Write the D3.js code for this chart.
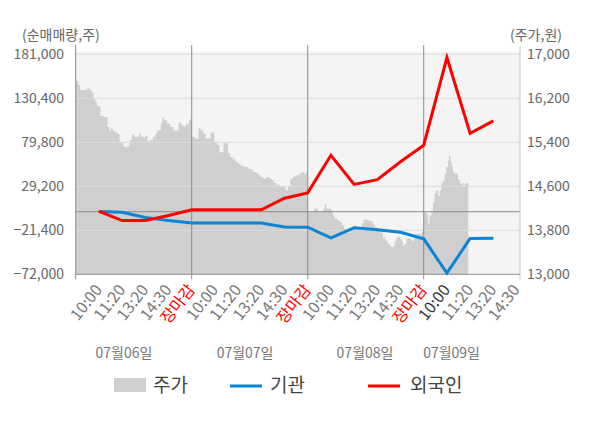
<!DOCTYPE html>
<html>
<head>
<meta charset="utf-8">
<script src="https://cdn.jsdelivr.net/npm/d3@7"></script>
<style>
    body { margin: 0; background: #fff; }
    svg { display: block; font-family: "Noto Sans CJK KR", "Noto Sans", sans-serif; }
</style>
</head>
<body>
<svg id="chart" width="600" height="428"></svg>
<script>
// x axis: one slot per label, day boundaries every 5 slots
const slotLabels = [
    '10:00', '11:20', '13:20', '14:30', '장마감',
    '10:00', '11:20', '13:20', '14:30', '장마감',
    '10:00', '11:20', '13:20', '14:30', '장마감',
    '10:00', '11:20', '13:20', '14:30'
];
const dayLabels = ['07월06일', '07월07일', '07월08일', '07월09일'];

// cumulative net buying (shares), one value per slot 1..18
const foreignNet = [500, -10200, -10200, -4400, 2200, 2200, 2200, 2200, 15500, 21600,
    64900, 31400, 36800, 57400, 76400, 177300, 90000, 104500];
const instNet = [300, -600, -6700, -10200, -12900, -12900, -12900, -12900, -17500, -17900,
    -30200, -18600, -20900, -23700, -31300, -70600, -30700, -30500];

const leftTicks = [-72000, -21400, 29200, 79800, 130400, 181000];
const rightTicks = [13000, 13800, 14600, 15400, 16200, 17000];

// stock price: [slot position, price]
const priceSeries = [
    [0.00, 16520], [0.05, 16520], [0.12, 16440], [0.19, 16350], [0.34, 16350], [0.48, 16380],
    [0.55, 16380], [0.62, 16340], [0.70, 16300], [0.77, 16200], [0.84, 16140], [0.91, 16060],
    [0.98, 16050], [1.06, 15880], [1.20, 15860], [1.31, 15860], [1.37, 15680], [1.46, 15600],
    [1.52, 15650], [1.60, 15600], [1.70, 15580], [1.80, 15550], [1.89, 15410], [1.99, 15390],
    [2.06, 15320], [2.18, 15300], [2.23, 15330], [2.32, 15440], [2.42, 15540], [2.52, 15500],
    [2.64, 15500], [2.74, 15560], [2.82, 15500], [2.92, 15470], [2.99, 15520], [3.09, 15420],
    [3.21, 15440], [3.33, 15500], [3.44, 15560], [3.52, 15620], [3.61, 15620], [3.67, 15740],
    [3.73, 15850], [3.81, 15800], [3.93, 15740], [4.07, 15680], [4.21, 15620], [4.33, 15620],
    [4.43, 15750], [4.55, 15710], [4.64, 15690], [4.76, 15730], [4.88, 15800], [4.93, 15820],
    [5.00, 15500], [5.13, 15470], [5.20, 15470], [5.29, 15650], [5.38, 15620], [5.49, 15560],
    [5.60, 15470], [5.70, 15470], [5.81, 15570], [5.89, 15590], [5.98, 15410], [6.09, 15350],
    [6.20, 15220], [6.30, 15220], [6.37, 15390], [6.46, 15380], [6.56, 15200], [6.66, 15130],
    [6.78, 15090], [6.89, 15040], [6.99, 15010], [7.11, 14980], [7.24, 14950], [7.32, 14950],
    [7.43, 14920], [7.53, 14900], [7.65, 14860], [7.76, 14840], [7.86, 14800], [7.96, 14770],
    [8.08, 14740], [8.22, 14770], [8.34, 14740], [8.44, 14710], [8.54, 14660], [8.65, 14630],
    [8.79, 14590], [8.94, 14590], [9.05, 14530], [9.15, 14600], [9.25, 14740], [9.37, 14780],
    [9.51, 14800], [9.63, 14830], [9.73, 14860], [9.83, 14830], [9.92, 14860], [9.98, 14830],
    [10.00, 14130], [10.16, 14150], [10.28, 14190], [10.38, 14190], [10.45, 14130], [10.56, 14150],
    [10.66, 14190], [10.73, 14270], [10.81, 14190], [10.91, 14190], [11.02, 14160], [11.09, 14070],
    [11.16, 14010], [11.28, 13980], [11.38, 13950], [11.48, 13890], [11.57, 13830], [11.67, 13760],
    [11.77, 13760], [11.88, 13850], [12.00, 13890], [12.10, 13830], [12.20, 13850], [12.32, 13930],
    [12.40, 13990], [12.50, 13990], [12.60, 13980], [12.71, 13960], [12.82, 13900], [12.91, 13850],
    [13.03, 13810], [13.14, 13760], [13.24, 13670], [13.34, 13610], [13.44, 13560], [13.53, 13520],
    [13.61, 13490], [13.69, 13520], [13.75, 13610], [13.83, 13670], [13.90, 13690], [13.97, 13640],
    [14.04, 13610], [14.11, 13520], [14.18, 13550], [14.26, 13640], [14.33, 13660], [14.40, 13640],
    [14.50, 13610], [14.59, 13730], [14.69, 13730], [14.76, 13750], [14.83, 13730], [14.90, 13760],
    [14.97, 13810],
    [15.00, 14130], [15.11, 14100], [15.19, 13930], [15.25, 14070], [15.33, 14130], [15.40, 14310],
    [15.47, 14470], [15.54, 14530], [15.62, 14430], [15.69, 14530], [15.76, 14660], [15.83, 14700],
    [15.90, 14830], [15.97, 14950], [16.05, 15070], [16.09, 15150], [16.15, 15040], [16.20, 14960],
    [16.26, 14860], [16.33, 14830], [16.41, 14830], [16.48, 14720], [16.56, 14640], [16.63, 14660],
    [16.70, 14620], [16.78, 14650], [16.85, 14660], [16.92, 14660]
];

const svg = d3.select('#chart');

const plotLeft = 75.7, plotRight = 520, plotTop = 54.3, plotBottom = 274.3;

const x = d3.scaleLinear().domain([0, 19.15]).range([plotLeft, plotRight]);
const yLeft = d3.scaleLinear().domain([-72000, 181000]).range([plotBottom, plotTop]);
const yRight = d3.scaleLinear().domain([13000, 17000]).range([plotBottom, plotTop]);
const fmt = d3.format(',');

// plot background
svg.append('rect')
    .attr('x', plotLeft)
    .attr('y', plotTop - 2.6)
    .attr('width', plotRight - plotLeft)
    .attr('height', plotBottom - plotTop + 2.6)
    .attr('fill', '#f4f4f4');

// price area
const area = d3.area()
    .x(d => x(d[0]))
    .y0(plotBottom)
    .y1(d => yRight(d[1]))
    .curve(d3.curveStepAfter);

svg.append('path')
    .datum(priceSeries)
    .attr('d', area)
    .attr('fill', '#cfcfcf');

// horizontal grid
svg.append('g')
    .selectAll('line')
    .data(leftTicks.slice(1))
    .join('line')
    .attr('x1', plotLeft)
    .attr('x2', plotRight)
    .attr('y1', d => yLeft(d))
    .attr('y2', d => yLeft(d))
    .attr('stroke', '#dcdcdc')
    .attr('stroke-width', 1);

// zero line
svg.append('line')
    .attr('x1', plotLeft)
    .attr('x2', plotRight)
    .attr('y1', yLeft(0))
    .attr('y2', yLeft(0))
    .attr('stroke', '#8c8c8c')
    .attr('stroke-width', 1);

// day separators + left axis line
svg.append('g')
    .selectAll('line')
    .data([0, 5, 10, 15])
    .join('line')
    .attr('x1', d => x(d))
    .attr('x2', d => x(d))
    .attr('y1', 45)
    .attr('y2', plotBottom + 5)
    .attr('stroke', '#8c8c8c')
    .attr('stroke-width', 1);

// right axis line
svg.append('line')
    .attr('x1', plotRight)
    .attr('x2', plotRight)
    .attr('y1', 47)
    .attr('y2', plotBottom + 5)
    .attr('stroke', '#c8c8c8');

// bottom axis line
svg.append('line')
    .attr('x1', plotLeft)
    .attr('x2', plotRight)
    .attr('y1', plotBottom)
    .attr('y2', plotBottom)
    .attr('stroke', '#8c8c8c');

// net buying lines
const slotLine = d3.line()
    .x((d, i) => x(i + 1))
    .y(d => yLeft(d));

svg.append('path')
    .datum(instNet)
    .attr('d', slotLine)
    .attr('fill', 'none')
    .attr('stroke', '#0a84d4')
    .attr('stroke-width', 3);

svg.append('path')
    .datum(foreignNet)
    .attr('d', slotLine)
    .attr('fill', 'none')
    .attr('stroke', '#ff0000')
    .attr('stroke-width', 3);

// left tick labels
svg.append('g')
    .selectAll('text')
    .data(leftTicks)
    .join('text')
    .attr('x', 64)
    .attr('y', d => yLeft(d) + 5)
    .attr('text-anchor', 'end')
    .attr('font-size', 14)
    .attr('fill', '#666')
    .text(d => fmt(d));

// right tick labels
svg.append('g')
    .selectAll('text')
    .data(rightTicks)
    .join('text')
    .attr('x', 527)
    .attr('y', d => yRight(d) + 5)
    .attr('font-size', 14)
    .attr('fill', '#666')
    .text(d => fmt(d));

// axis titles
svg.append('text')
    .attr('x', 22)
    .attr('y', 40)
    .attr('font-size', 14)
    .attr('fill', '#666')
    .text('(순매매량,주)');

svg.append('text')
    .attr('x', 510)
    .attr('y', 40)
    .attr('font-size', 14)
    .attr('fill', '#666')
    .text('(주가,원)');

// rotated slot labels
svg.append('g')
    .selectAll('text')
    .data(slotLabels)
    .join('text')
    .attr('transform', (d, i) => `translate(${x(i + 1) + 4},290) rotate(-52)`)
    .attr('text-anchor', 'end')
    .attr('font-size', 16)
    .attr('fill', (d, i) => d === '장마감' ? '#ff0000' : (i === 15 ? '#333' : '#777'))
    .text(d => d);

// day labels
const dayLabelAt = [2.08, 7.3, 12.47, 16.2];
svg.append('g')
    .selectAll('text')
    .data(dayLabels)
    .join('text')
    .attr('x', (d, i) => x(dayLabelAt[i]))
    .attr('y', 358)
    .attr('text-anchor', 'middle')
    .attr('font-size', 14)
    .attr('fill', '#777')
    .text(d => d);

// legend
const legend = svg.append('g').attr('font-size', 19).attr('fill', '#444');
legend.append('rect')
    .attr('x', 114).attr('y', 378).attr('width', 32).attr('height', 14)
    .attr('fill', '#cfcfcf');
legend.append('text').attr('x', 153).attr('y', 392).text('주가');
legend.append('line')
    .attr('x1', 230).attr('x2', 262).attr('y1', 386).attr('y2', 386)
    .attr('stroke', '#0a84d4').attr('stroke-width', 3);
legend.append('text').attr('x', 270).attr('y', 392).text('기관');
legend.append('line')
    .attr('x1', 368).attr('x2', 400).attr('y1', 386).attr('y2', 386)
    .attr('stroke', '#ff0000').attr('stroke-width', 3);
legend.append('text').attr('x', 410).attr('y', 392).text('외국인');
</script>
</body>
</html>
